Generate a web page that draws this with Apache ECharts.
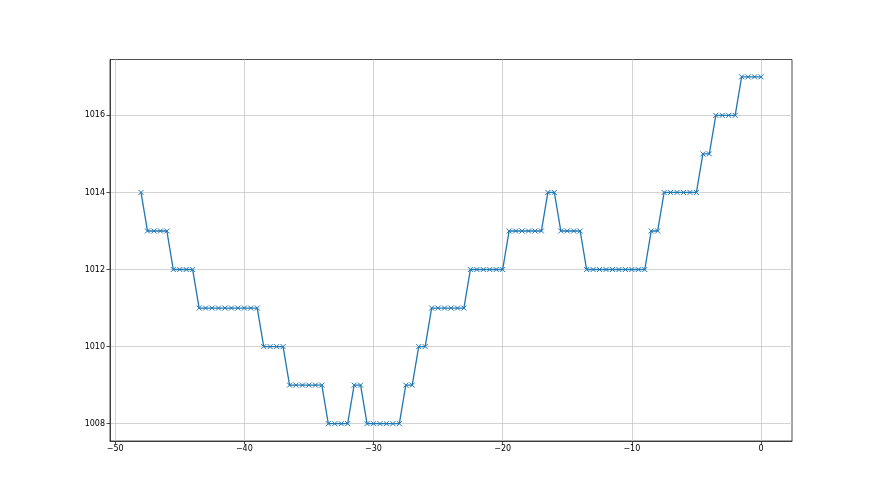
<!DOCTYPE html>
<html>
<head>
<meta charset="utf-8">
<script src="https://cdn.jsdelivr.net/npm/echarts@6/dist/echarts.min.js"></script>
<style>html,body{margin:0;padding:0;background:#fff}#c{width:880px;height:495px}</style>
</head>
<body>
<div id="c"></div>
<script>
// x positions (step 0.5 from -48 to 0) are listed explicitly
var xValues = [-48,-47.5,-47,-46.5,-46,-45.5,-45,-44.5,-44,-43.5,-43,-42.5,-42,-41.5,-41,-40.5,-40,-39.5,-39,-38.5,-38,-37.5,-37,-36.5,-36,-35.5,-35,-34.5,-34,-33.5,-33,-32.5,-32,-31.5,-31,-30.5,-30,-29.5,-29,-28.5,-28,-27.5,-27,-26.5,-26,-25.5,-25,-24.5,-24,-23.5,-23,-22.5,-22,-21.5,-21,-20.5,-20,-19.5,-19,-18.5,-18,-17.5,-17,-16.5,-16,-15.5,-15,-14.5,-14,-13.5,-13,-12.5,-12,-11.5,-11,-10.5,-10,-9.5,-9,-8.5,-8,-7.5,-7,-6.5,-6,-5.5,-5,-4.5,-4,-3.5,-3,-2.5,-2,-1.5,-1,-0.5,0];
var pressure = [1014,
 1013,1013,1013,1013,
 1012,1012,1012,1012,
 1011,1011,1011,1011,1011,1011,1011,1011,1011,1011,
 1010,1010,1010,1010,
 1009,1009,1009,1009,1009,1009,
 1008,1008,1008,1008,
 1009,1009,
 1008,1008,1008,1008,1008,1008,
 1009,1009,
 1010,1010,
 1011,1011,1011,1011,1011,1011,
 1012,1012,1012,1012,1012,1012,
 1013,1013,1013,1013,1013,1013,
 1014,1014,
 1013,1013,1013,1013,
 1012,1012,1012,1012,1012,1012,1012,1012,1012,1012,
 1013,1013,
 1014,1014,1014,1014,1014,1014,
 1015,1015,
 1016,1016,1016,1016,
 1017,1017,1017,1017];
var xTicks = [-50,-40,-30,-20,-10,0];
var yTicks = [1008,1010,1012,1014,1016];

var data = xValues.map(function(x,i){return [x,pressure[i]];});
var fmtX = function(v){ return v < 0 ? '\u2212' + Math.abs(v) : String(v); };
var fmtY = function(v){ return String(v); };
var chart = echarts.init(document.getElementById('c'), null, {renderer:'canvas'});
var labelStyle = {color:'#000', fontFamily:'DejaVu Sans', fontSize:8};
chart.setOption({
  animation:false,
  backgroundColor:'#fff',
  grid:{left:110, right:88, top:59.5, bottom:54, show:true, borderColor:'#222', borderWidth:0.8, containLabel:false},
  xAxis:{type:'value', min:-50.4, max:2.4,
    axisLine:{show:true, onZero:false, lineStyle:{color:'#222', width:0.8}},
    axisTick:{show:true, length:3.5, lineStyle:{color:'#222', width:0.8}, customValues:xTicks},
    axisLabel:Object.assign({margin:4, customValues:xTicks, formatter:fmtX}, labelStyle),
    splitLine:{show:true, lineStyle:{color:'#c8c8c8', width:0.8}, customValues:xTicks}
  },
  yAxis:{type:'value', min:1007.55, max:1017.45,
    axisLine:{show:true, onZero:false, lineStyle:{color:'#222', width:0.8}},
    axisTick:{show:true, length:3.5, lineStyle:{color:'#222', width:0.8}, customValues:yTicks},
    axisLabel:Object.assign({margin:5, customValues:yTicks, formatter:fmtY}, labelStyle),
    splitLine:{show:true, lineStyle:{color:'#c8c8c8', width:0.8}, customValues:yTicks}
  },
  series:[{type:'line', data:data, lineStyle:{color:'#1f77b4', width:1.3},
    symbol:'path://M0,0L10,10M10,0L0,10', symbolSize:5, showAllSymbol:true,
    itemStyle:{color:'#1f77b4', borderColor:'#1f77b4', borderWidth:1}
  }]
});
</script>
</body>
</html>
